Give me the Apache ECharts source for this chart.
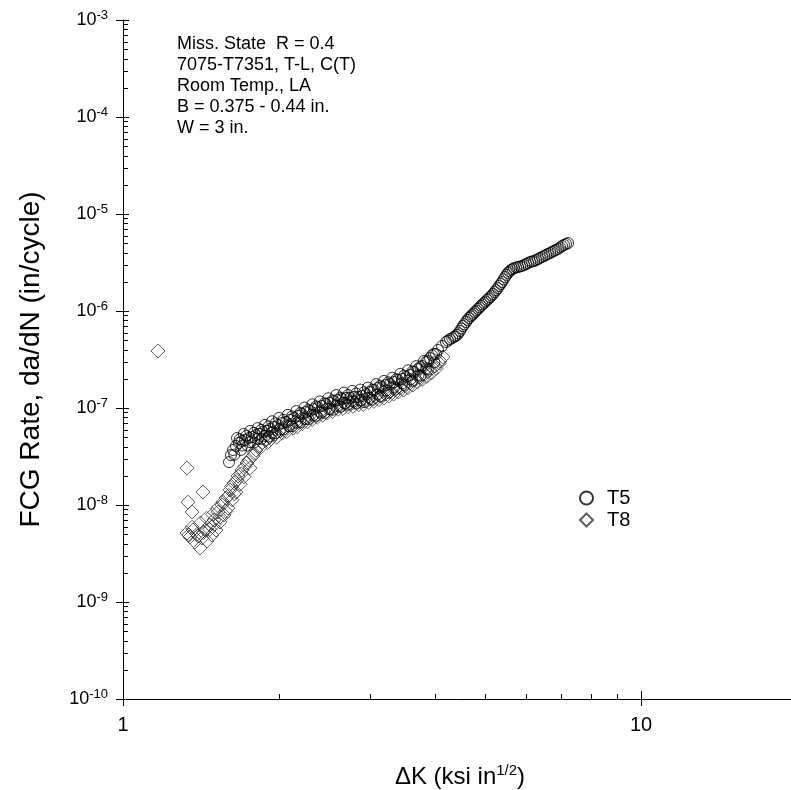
<!DOCTYPE html>
<html>
<head>
<meta charset="utf-8">
<script src="https://cdn.jsdelivr.net/npm/echarts@6/dist/echarts.min.js"></script>
<style>
  html, body { margin: 0; padding: 0; background: #fff; }
  #chart { width: 791px; height: 790px; }
</style>
</head>
<body>
<div id="chart"></div>
<script>
// Specimen T5: stress-intensity range (ksi in^1/2) and growth rate (in/cycle)
const t5DeltaK = [
  1.602, 1.616, 1.631, 1.652, 1.674, 1.697, 1.720, 1.751, 1.774, 1.806,
  1.830, 1.863, 1.897, 1.922, 1.956, 1.992, 2.027, 2.064, 2.101, 2.139,
  2.177, 2.216, 2.256, 2.296, 2.337, 2.379, 2.422, 2.466, 2.510, 2.555,
  2.601, 2.648, 2.695, 2.743, 2.792, 2.843, 2.894, 2.946, 2.998, 3.053,
  3.107, 3.162, 3.219, 3.276, 3.335, 3.395, 3.456, 3.518, 3.581, 3.645,
  3.711, 3.777, 3.845, 3.914, 3.984, 4.056, 4.129, 4.203, 4.278, 4.355,
  4.413, 4.473, 4.533, 4.594, 4.656, 4.718, 4.782, 4.846, 4.911, 4.977,
  5.044, 5.111, 5.180, 5.250, 5.320, 5.392, 5.464, 5.537, 5.612, 5.687,
  5.789, 5.893, 5.998, 6.106, 6.215, 6.327, 6.440, 6.556, 6.673, 6.792,
  6.915, 7.039, 7.165, 7.229,
  1.66, 1.71, 1.76, 1.82, 1.88, 1.94, 2.00, 2.08, 2.16, 2.24,
  2.32, 2.40, 2.49, 2.58, 2.67, 2.77, 2.87, 2.97, 3.08, 3.19,
  3.31, 3.43, 3.55, 3.68, 3.81, 3.95,
  1.64, 1.69, 1.74, 1.79, 1.85, 1.91, 1.97, 2.04, 2.12, 2.20,
  2.28, 2.36, 2.45, 2.54, 2.63, 2.72, 2.82, 2.92, 3.03, 3.14,
  3.25, 3.37, 3.49, 3.62, 3.75, 3.88,
  4.24, 4.32, 4.38, 4.44, 4.50, 4.56, 4.62, 4.69, 4.75, 4.81,
  4.88, 4.94, 5.01, 5.08, 5.15, 5.22, 5.29, 5.36, 5.43, 5.50,
  5.57, 5.65, 5.74, 5.84, 5.95, 6.05, 6.16, 6.27, 6.38, 6.50,
  6.61, 6.73, 6.85, 6.98, 7.10,
  1.68, 1.73, 1.79, 1.85, 1.91, 1.97, 2.04, 2.12, 2.20, 2.28,
  2.36, 2.45, 2.54, 2.63, 2.72, 2.82, 2.92, 3.03, 3.14, 3.25,
  3.37, 3.49, 3.62, 3.75, 3.88, 4.02,
  1.70, 1.76, 1.82, 1.88, 1.94, 2.01, 2.09, 2.17, 2.25, 2.33,
  2.41, 2.50, 2.59, 2.68, 2.78, 2.88, 2.99, 3.10, 3.22, 3.34,
  3.46, 3.59, 3.72, 3.85, 3.99
];
const t5Rate = [
  2.77e-8, 3.27e-8, 3.69e-8, 4.06e-8, 4.36e-8, 4.57e-8, 4.68e-8, 4.91e-8, 5.02e-8, 5.27e-8,
  5.40e-8, 5.66e-8, 5.80e-8, 6.08e-8, 6.37e-8, 6.68e-8, 7.00e-8, 7.18e-8, 7.52e-8, 7.89e-8,
  8.28e-8, 8.67e-8, 9.10e-8, 9.31e-8, 9.77e-8, 1.02e-7, 1.05e-7, 1.10e-7, 1.13e-7, 1.18e-7,
  1.21e-7, 1.24e-7, 1.27e-7, 1.27e-7, 1.30e-7, 1.30e-7, 1.33e-7, 1.39e-7, 1.46e-7, 1.53e-7,
  1.61e-7, 1.64e-7, 1.73e-7, 1.77e-7, 1.85e-7, 1.95e-7, 1.99e-7, 2.09e-7, 2.19e-7, 2.35e-7,
  2.52e-7, 2.71e-7, 2.98e-7, 3.27e-7, 3.60e-7, 3.96e-7, 4.36e-7, 4.79e-7, 5.14e-7, 5.40e-7,
  5.66e-7, 6.22e-7, 7.00e-7, 7.70e-7, 8.47e-7, 9.10e-7, 9.77e-7, 1.05e-6, 1.13e-6, 1.21e-6,
  1.30e-6, 1.39e-6, 1.50e-6, 1.64e-6, 1.81e-6, 1.99e-6, 2.24e-6, 2.47e-6, 2.65e-6, 2.77e-6,
  2.84e-6, 2.91e-6, 3.05e-6, 3.20e-6, 3.27e-6, 3.43e-6, 3.60e-6, 3.78e-6, 3.96e-6, 4.16e-6,
  4.36e-6, 4.68e-6, 4.91e-6, 5.02e-6,
  4.9e-8, 5.4e-8, 5.8e-8, 6.2e-8, 6.7e-8, 7.3e-8, 7.9e-8, 8.5e-8, 9.3e-8, 1.01e-7,
  1.09e-7, 1.17e-7, 1.26e-7, 1.36e-7, 1.44e-7, 1.50e-7, 1.55e-7, 1.62e-7, 1.76e-7, 1.90e-7,
  2.05e-7, 2.25e-7, 2.45e-7, 2.70e-7, 3.05e-7, 3.50e-7,
  3.3e-8, 3.7e-8, 4.1e-8, 4.4e-8, 4.8e-8, 5.1e-8, 5.5e-8, 6.0e-8, 6.5e-8, 7.1e-8,
  7.7e-8, 8.3e-8, 8.9e-8, 9.6e-8, 1.03e-7, 1.08e-7, 1.11e-7, 1.15e-7, 1.22e-7, 1.32e-7,
  1.44e-7, 1.58e-7, 1.73e-7, 1.90e-7, 2.15e-7, 2.50e-7,
  4.95e-7, 5.25e-7, 5.50e-7, 5.90e-7, 6.60e-7, 7.30e-7, 8.10e-7, 8.80e-7, 9.40e-7, 1.01e-6,
  1.09e-6, 1.17e-6, 1.25e-6, 1.34e-6, 1.44e-6, 1.57e-6, 1.72e-6, 1.90e-6, 2.12e-6, 2.36e-6,
  2.56e-6, 2.71e-6, 2.81e-6, 2.88e-6, 2.98e-6, 3.12e-6, 3.24e-6, 3.35e-6, 3.52e-6, 3.69e-6,
  3.87e-6, 4.06e-6, 4.26e-6, 4.52e-6, 4.80e-6,
  4.75e-8, 5.15e-8, 5.55e-8, 5.95e-8, 6.45e-8, 6.95e-8, 7.55e-8, 8.20e-8, 8.90e-8, 9.60e-8,
  1.04e-7, 1.12e-7, 1.20e-7, 1.28e-7, 1.36e-7, 1.41e-7, 1.45e-7, 1.55e-7, 1.70e-7, 1.84e-7,
  1.98e-7, 2.16e-7, 2.38e-7, 2.65e-7, 3.05e-7, 3.60e-7,
  4.10e-8, 4.45e-8, 4.80e-8, 5.15e-8, 5.55e-8, 6.00e-8, 6.50e-8, 7.05e-8, 7.70e-8, 8.40e-8,
  9.00e-8, 9.70e-8, 1.05e-7, 1.12e-7, 1.16e-7, 1.20e-7, 1.27e-7, 1.38e-7, 1.52e-7, 1.65e-7,
  1.80e-7, 1.98e-7, 2.20e-7, 2.55e-7, 2.95e-7
];

// Specimen T8
const t8DeltaK = [
  1.168, 1.329, 1.335, 1.359, 1.427, 1.329, 1.347, 1.365, 1.377, 1.396,
  1.408, 1.420, 1.440, 1.453, 1.472, 1.485, 1.498, 1.512, 1.525, 1.539,
  1.553, 1.567, 1.581, 1.595, 1.609, 1.623, 1.638, 1.652, 1.667, 1.682,
  1.697, 1.712, 1.735, 1.759, 1.782, 1.806, 1.830, 1.855, 1.888, 1.922,
  1.965, 2.010, 2.055, 2.101, 2.148, 2.196, 2.246, 2.296, 2.348, 2.401,
  2.455, 2.510, 2.566, 2.624, 2.683, 2.743, 2.805, 2.868, 2.932, 2.998,
  3.065, 3.134, 3.204, 3.276, 3.350, 3.425, 3.502, 3.581, 3.661, 3.744,
  3.828, 3.914, 4.002, 4.092, 4.148,
  1.34, 1.36, 1.39, 1.41, 1.43, 1.45, 1.47, 1.49, 1.50, 1.52,
  1.54, 1.56, 1.58, 1.60, 1.62, 1.64, 1.66, 1.69, 1.72, 1.75,
  1.79, 1.84, 1.90, 1.98, 2.07, 2.17, 2.27, 2.37, 2.48, 2.60,
  2.72, 2.85, 2.98, 3.12, 3.26, 3.40, 3.55, 3.70, 3.86, 4.02,
  1.93, 2.03, 2.13, 2.22, 2.32, 2.43, 2.54, 2.66, 2.78, 2.91,
  3.05, 3.19, 3.33, 3.48, 3.63, 3.78, 3.94, 4.08
];
const t8Rate = [
  3.87e-7, 2.40e-8, 1.07e-8, 8.47e-9, 1.36e-8, 5.14e-9, 4.68e-9, 5.52e-9, 4.16e-9, 4.79e-9,
  3.60e-9, 4.57e-9, 5.52e-9, 4.26e-9, 6.22e-9, 4.91e-9, 7.00e-9, 5.52e-9, 8.47e-9, 6.68e-9,
  1.00e-8, 7.89e-9, 1.18e-8, 9.31e-9, 1.43e-8, 1.13e-8, 1.69e-8, 1.36e-8, 1.99e-8, 1.64e-8,
  2.30e-8, 1.95e-8, 2.71e-8, 2.40e-8, 3.20e-8, 3.69e-8, 4.06e-8, 4.36e-8, 4.68e-8, 5.02e-8,
  5.40e-8, 5.80e-8, 6.22e-8, 6.68e-8, 7.18e-8, 7.52e-8, 7.89e-8, 8.28e-8, 8.67e-8, 9.10e-8,
  9.53e-8, 1.00e-7, 1.05e-7, 1.07e-7, 1.10e-7, 1.13e-7, 1.15e-7, 1.18e-7, 1.21e-7, 1.24e-7,
  1.30e-7, 1.33e-7, 1.39e-7, 1.46e-7, 1.53e-7, 1.61e-7, 1.69e-7, 1.81e-7, 1.95e-7, 2.09e-7,
  2.24e-7, 2.47e-7, 2.71e-7, 3.05e-7, 3.36e-7,
  4.9e-9, 5.9e-9, 5.0e-9, 6.5e-9, 5.2e-9, 7.3e-9, 5.6e-9, 8.0e-9, 6.3e-9, 9.2e-9,
  7.5e-9, 1.07e-8, 8.6e-9, 1.25e-8, 1.55e-8, 1.30e-8, 1.80e-8, 2.10e-8, 2.50e-8, 2.90e-8,
  3.40e-8, 3.90e-8, 4.40e-8, 5.00e-8, 5.70e-8, 6.40e-8, 7.20e-8, 8.00e-8, 8.90e-8, 9.70e-8,
  1.03e-7, 1.08e-7, 1.14e-7, 1.22e-7, 1.33e-7, 1.46e-7, 1.62e-7, 1.85e-7, 2.12e-7, 2.55e-7,
  4.8e-8, 5.5e-8, 6.2e-8, 6.9e-8, 7.6e-8, 8.4e-8, 9.2e-8, 9.9e-8, 1.04e-7, 1.09e-7,
  1.17e-7, 1.27e-7, 1.39e-7, 1.53e-7, 1.72e-7, 1.97e-7, 2.30e-7, 2.90e-7
];

const seriesNames = ['T5', 'T8'];
const xRange = [1, 20];
const yRange = [1e-10, 1e-3];
const xMinorTicks = [2, 3, 4, 5, 6, 7, 8, 9];
const yDecades = [-10, -9, -8, -7, -6, -5, -4, -3];
const noteLines = [
  'Miss. State  R = 0.4',
  '7075-T7351, T-L, C(T)',
  'Room Temp., LA',
  'B = 0.375 - 0.44 in.',
  'W = 3 in.'
];

const FONT = '"Liberation Sans", Arial, Helvetica, sans-serif';
const pairs = (xs, ys) => xs.map((x, i) => [x, ys[i]]);
const isPow10 = v => Math.abs(Math.log10(v) - Math.round(Math.log10(v))) < 1e-9;

const chart = echarts.init(document.getElementById('chart'), null, { renderer: 'canvas' });

chart.setOption({
  animation: false,
  backgroundColor: '#fff',
  grid: { left: 123, top: 20, right: -6, bottom: 91, containLabel: false, outerBoundsMode: 'none' },
  legend: {
    orient: 'vertical',
    left: 579,
    top: 487,
    padding: 0,
    itemWidth: 13,
    itemHeight: 13,
    itemGap: 0,
    data: [{ name: seriesNames[0], icon: 'circle' }, { name: seriesNames[1], icon: 'diamond' }],
    textStyle: { fontFamily: FONT, fontSize: 20, color: '#000', lineHeight: 22, padding: [0, 0, 0, 9] }
  },
  xAxis: {
    type: 'log',
    logBase: 10,
    min: xRange[0],
    max: xRange[1],
    axisLine: { show: true, lineStyle: { color: '#000', width: 1 } },
    axisTick: { show: false },
    minorTick: { show: false },
    splitLine: { show: false },
    axisLabel: {
      formatter: v => (isPow10(v) ? String(Math.round(v)) : ''),
      fontFamily: FONT, fontSize: 20, color: '#000', margin: 16
    },
    name: '{a|\u0394K (ksi in}{s|1/2}{a|)}',
    nameLocation: 'middle',
    nameGap: 64,
    nameTextStyle: {
      rich: {
        a: { fontFamily: FONT, fontSize: 24, color: '#000', lineHeight: 28 },
        s: { fontFamily: FONT, fontSize: 15, color: '#000', verticalAlign: 'top' }
      }
    }
  },
  yAxis: {
    type: 'log',
    logBase: 10,
    min: yRange[0],
    max: yRange[1],
    interval: 1,
    axisLine: { show: true, lineStyle: { color: '#000', width: 1 } },
    axisTick: { show: false },
    minorTick: { show: false },
    splitLine: { show: false },
    axisLabel: {
      margin: 15,
      formatter: v => '{b|10}{s|' + Math.round(Math.log10(v)) + '}',
      rich: {
        b: { fontFamily: FONT, fontSize: 18, color: '#000', lineHeight: 22 },
        s: { fontFamily: FONT, fontSize: 13, color: '#000', verticalAlign: 'top' }
      }
    },
    name: 'FCG Rate, da/dN (in/cycle)',
    nameLocation: 'middle',
    nameRotate: 90,
    nameGap: 78,
    nameTextStyle: { fontFamily: FONT, fontSize: 28, color: '#000' }
  },
  series: [
    {
      name: seriesNames[1],
      type: 'scatter',
      symbol: 'diamond',
      symbolSize: 14,
      data: pairs(t8DeltaK, t8Rate),
      itemStyle: { color: 'rgba(0,0,0,0)', borderColor: '#3a3a3a', borderWidth: 1 },
      emphasis: { disabled: true },
      z: 2
    },
    {
      name: seriesNames[0],
      type: 'scatter',
      symbol: 'circle',
      symbolSize: 11,
      data: pairs(t5DeltaK, t5Rate),
      itemStyle: { color: 'rgba(0,0,0,0)', borderColor: '#000', borderWidth: 1 },
      emphasis: { disabled: true },
      z: 3
    }
  ]
});

// Tick marks: major ticks cross the axis line, minor ticks sit inside the plot.
function drawTicks() {
  const g = [];
  const ax0 = chart.convertToPixel({ xAxisIndex: 0 }, xRange[0]);
  const ay0 = chart.convertToPixel({ yAxisIndex: 0 }, yRange[0]);
  const line = (x1, y1, x2, y2) => ({
    type: 'line', silent: true, z: 10,
    shape: { x1, y1, x2, y2 },
    style: { stroke: '#000', lineWidth: 1 }
  });
  // x axis
  [1, 10].forEach(v => {
    const x = Math.round(chart.convertToPixel({ xAxisIndex: 0 }, v)) + 0.5;
    g.push(line(x, ay0 - 8, x, ay0 + 7));
  });
  xMinorTicks.forEach(v => {
    const x = Math.round(chart.convertToPixel({ xAxisIndex: 0 }, v)) + 0.5;
    g.push(line(x, ay0 - 5, x, ay0));
  });
  // y axis
  yDecades.forEach(e => {
    const y = Math.round(chart.convertToPixel({ yAxisIndex: 0 }, Math.pow(10, e))) + 0.5;
    g.push(line(ax0 - 7, y, ax0 + 6, y));
    if (e < -3) {
      for (let k = 2; k <= 9; k++) {
        const ym = Math.round(chart.convertToPixel({ yAxisIndex: 0 }, k * Math.pow(10, e))) + 0.5;
        g.push(line(ax0, ym, ax0 + 5, ym));
      }
    }
  });
  // annotation block
  g.push({
    type: 'text', silent: true, z: 10,
    left: 177, top: 34,
    style: {
      text: noteLines.join('\n'),
      font: '18px ' + FONT,
      lineHeight: 21,
      fill: '#000'
    }
  });
  chart.setOption({ graphic: g });
}
drawTicks();
</script>
</body>
</html>
